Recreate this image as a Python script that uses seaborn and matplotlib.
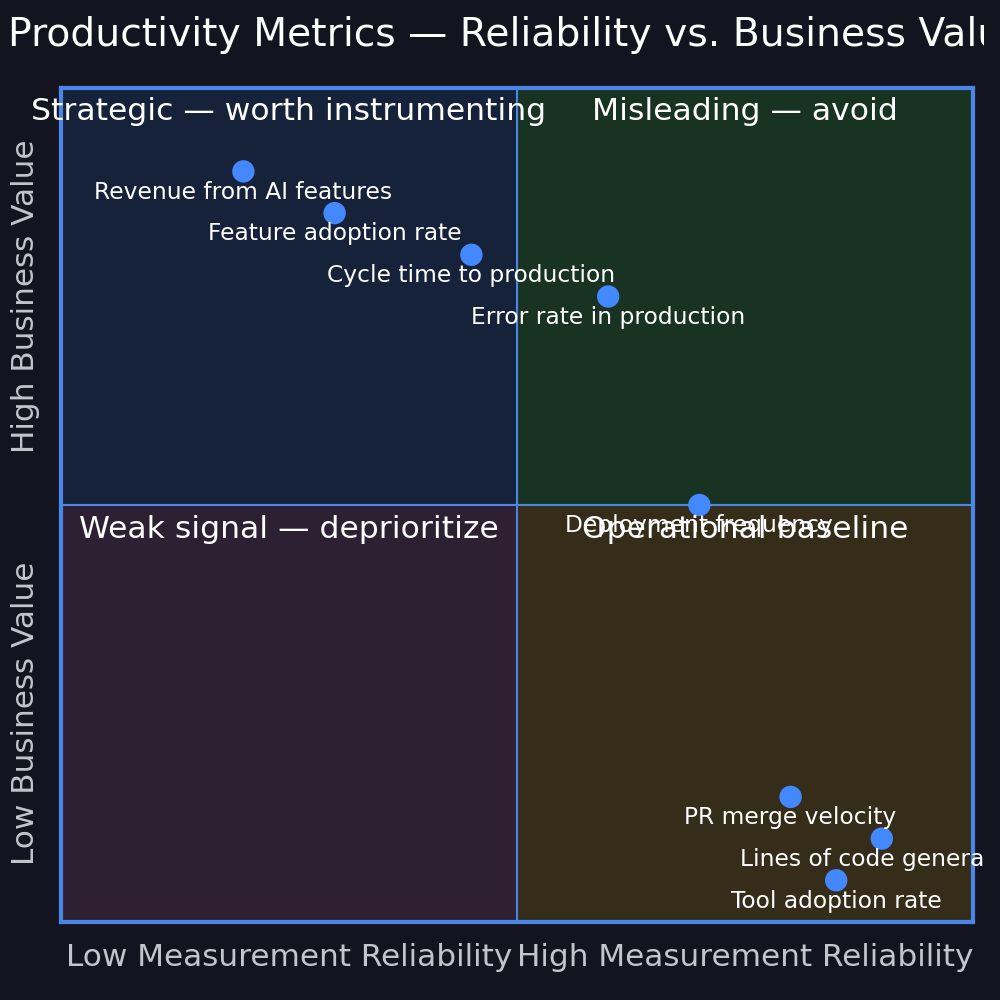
import matplotlib
matplotlib.use("Agg")
import matplotlib.pyplot as plt
from matplotlib.transforms import Bbox, TransformedBbox
import seaborn as sns
import pandas as pd

# --- data ---
metrics = ["Revenue from AI features", "Feature adoption rate", "Cycle time to production",
           "Error rate in production", "Deployment frequency", "PR merge velocity",
           "Lines of code generated", "Tool adoption rate"]
reliability = [0.2, 0.3, 0.45, 0.6, 0.7, 0.8, 0.9, 0.85]
business_value = [0.9, 0.85, 0.8, 0.75, 0.5, 0.15, 0.1, 0.05]

quadrant_names = ["Strategic — worth instrumenting", "Misleading — avoid",
                  "Weak signal — deprioritize", "Operational baseline"]
x_tick_labels = ["Low Measurement Reliability", "High Measurement Reliability"]
y_tick_labels = ["Low Business Value", "High Business Value"]

df = pd.DataFrame({"metric": metrics, "reliability": reliability, "value": business_value})

bg = "#141421"
line_col = "#4a86e8"
sns.set_style("dark")
plt.rcParams["font.family"] = ["DejaVu Sans"]

fig, ax = plt.subplots(figsize=(10, 10), dpi=100)
fig.patch.set_facecolor(bg)
fig.subplots_adjust(left=0.061, right=0.973, top=0.912, bottom=0.078)

# quadrant backgrounds
ax.axhspan(0.5, 1, xmin=0, xmax=0.5, color="#16213a", zorder=0)
ax.axhspan(0.5, 1, xmin=0.5, xmax=1, color="#183322", zorder=0)
ax.axhspan(0, 0.5, xmin=0, xmax=0.5, color="#2c2032", zorder=0)
ax.axhspan(0, 0.5, xmin=0.5, xmax=1, color="#352c1a", zorder=0)
ax.axvline(0.5, color=line_col, lw=1.5, zorder=1)
ax.axhline(0.5, color=line_col, lw=1.5, zorder=1)

sns.scatterplot(data=df, x="reliability", y="value", ax=ax, color="#4488ff",
                s=260, edgecolor="none", zorder=3, legend=False)

for _, r in df.iterrows():
    ax.annotate(r["metric"], (r["reliability"], r["value"]), xytext=(0, -15),
                textcoords="offset points", ha="center", va="center",
                color="white", fontsize=16.8, zorder=4, annotation_clip=False)

qpos = [(0.25, 0.972), (0.75, 0.972), (0.25, 0.471), (0.75, 0.471)]
for name, (qx, qy) in zip(quadrant_names, qpos):
    ax.text(qx, qy, name, ha="center", va="center", color="white", fontsize=22.6, zorder=4)

ax.set_xlim(0, 1)
ax.set_ylim(0, 1)
ax.set_xticks([0.25, 0.75])
ax.set_xticklabels(x_tick_labels, fontsize=22.4, color="#c4c4cc")
ax.set_yticks([0.25, 0.75])
ax.set_yticklabels(y_tick_labels, fontsize=22.4, color="#c4c4cc", rotation=90, va="center")
ax.tick_params(length=0)
ax.tick_params(axis="x", pad=15)
ax.tick_params(axis="y", pad=15)
ax.set_xlabel("")
ax.set_ylabel("")
for s in ax.spines.values():
    s.set_visible(True)
    s.set_color(line_col)
    s.set_linewidth(3)

title = ax.set_title("Productivity Metrics — Reliability vs. Business Value",
                     fontsize=28.3, color="white", pad=30)

# the reference is cut off a bit before the right edge
clip = TransformedBbox(Bbox([[0, 0], [0.984, 1]]), fig.transFigure)
title.set_clip_box(clip)
title.set_clip_on(True)
for t in ax.texts:
    t.set_clip_box(clip)
    t.set_clip_on(True)

fig.savefig("out.png", facecolor=bg)
